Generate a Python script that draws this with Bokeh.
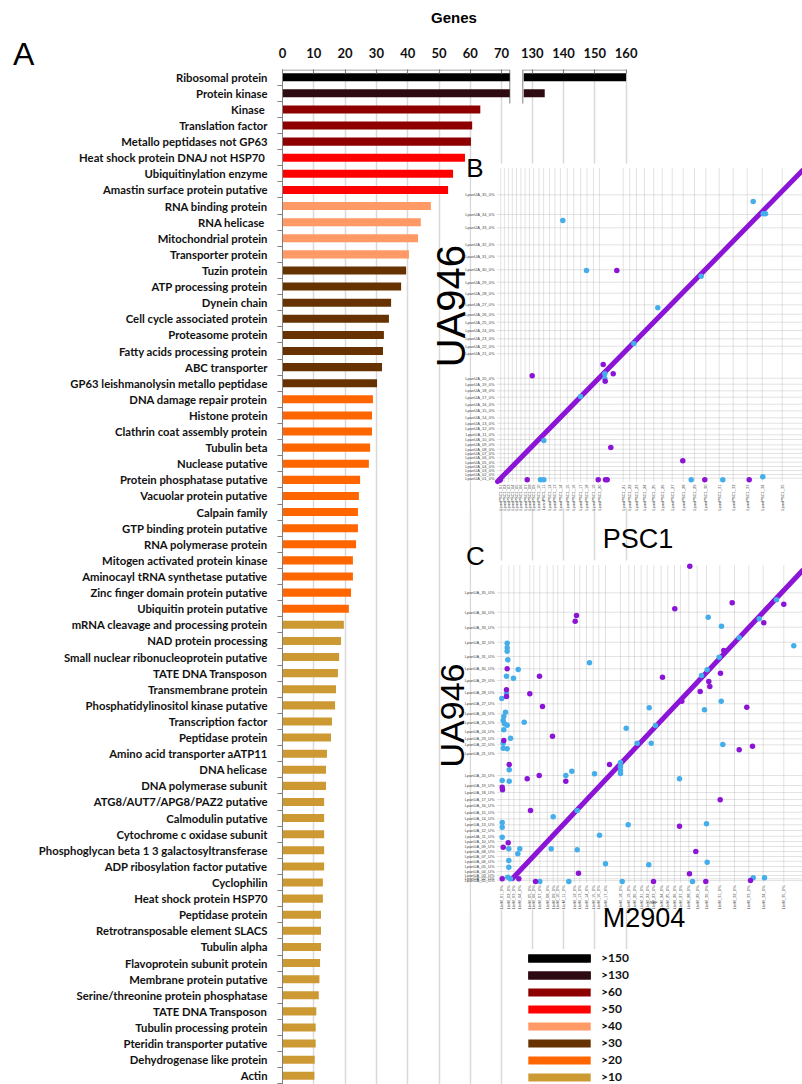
import math
from bokeh.plotting import figure
from bokeh.layouts import row
from bokeh.models import (Range1d, FixedTicker, ColumnDataSource, Label, Legend, LegendItem,
                          LinearAxis, Div)
from bokeh.embed import file_html
from bokeh.resources import INLINE

# ---------------- Panel A data ----------------
categories = [
    "Ribosomal protein", "Protein kinase", "Kinase ", "Translation factor",
    "Metallo peptidases not GP63", "Heat shock protein DNAJ not HSP70 ",
    "Ubiquitinylation enzyme", "Amastin surface protein putative",
    "RNA binding protein", "RNA helicase ", "Mitochondrial protein",
    "Transporter protein", "Tuzin protein", "ATP processing protein",
    "Dynein chain", "Cell cycle associated protein", "Proteasome protein",
    "Fatty acids processing protein", "ABC transporter",
    "GP63 leishmanolysin metallo peptidase", "DNA damage repair protein",
    "Histone protein", "Clathrin coat assembly protein", "Tubulin beta",
    "Nuclease putative", "Protein phosphatase putative",
    "Vacuolar protein putative", "Calpain family",
    "GTP binding protein putative", "RNA polymerase protein",
    "Mitogen activated protein kinase", "Aminocayl tRNA synthetase putative",
    "Zinc finger domain protein putative", "Ubiquitin protein putative",
    "mRNA cleavage and processing protein", "NAD protein processing",
    "Small nuclear ribonucleoprotein putative", "TATE DNA Transposon",
    "Transmembrane protein", "Phosphatidylinositol kinase putative",
    "Transcription factor", "Peptidase protein",
    "Amino acid transporter aATP11", "DNA helicase", "DNA polymerase subunit",
    "ATG8/AUT7/APG8/PAZ2 putative", "Calmodulin putative",
    "Cytochrome c oxidase subunit",
    "Phosphoglycan beta 1 3 galactosyltransferase",
    "ADP ribosylation factor putative", "Cyclophilin",
    "Heat shock protein HSP70", "Peptidase protein",
    "Retrotransposable element SLACS", "Tubulin alpha",
    "Flavoprotein subunit protein", "Membrane protein putative",
    "Serine/threonine protein phosphatase", "TATE DNA Transposon",
    "Tubulin processing protein", "Pteridin transporter putative",
    "Dehydrogenase like protein", "Actin",
]
genes = [
    160, 134, 63.2, 60.6, 60.2, 58.3, 54.5, 52.9,
    47.4, 44.2, 43.3, 40.4,
    39.5, 37.9, 34.7, 34.0, 32.4, 32.1, 31.8, 30.2,
    28.9, 28.6, 28.6, 28.0, 27.6, 24.8, 24.4, 24.1, 24.1, 23.5, 22.5, 22.5, 21.9, 21.2,
    19.6, 18.7, 18.1, 17.7, 17.1, 16.8, 15.8, 15.5, 14.2, 13.9, 13.9, 13.3, 13.3,
    13.3, 13.3, 13.3, 12.9, 12.9, 12.3, 12.3, 12.3, 12.0, 11.8, 11.6, 10.8, 10.6,
    10.6, 10.3, 10.2,
]
class_labels = [">150", ">130", ">60", ">50", ">40", ">30", ">20", ">10"]
class_colors = ["#000000", "#2E0B12", "#8E0000", "#FF0000", "#FF9966", "#663300", "#FF6600", "#CC9933"]
class_counts = [1, 1, 3, 3, 4, 8, 14, 29]

seg1_ticks = [0, 10, 20, 30, 40, 50, 60, 70]
seg2_ticks = [130, 140, 150, 160]
break_low = 72.62      # end of first axis segment
seg2_low = 127.3       # start of second axis segment
seg2_offset = 50.22    # seg2 value - offset = position on main scale

# ---------------- Panel B data (UA946 vs PSC1, Mb) ----------------
chrom = list(range(1, 36))
b_y_ticks = [0.33, 0.70, 1.10, 1.50, 1.93, 2.37, 2.80, 3.23, 3.67, 4.20, 4.67, 5.27,
             5.83, 6.37, 7.07, 7.73, 8.43, 9.07, 9.73, 10.33, 12.77, 13.53, 14.27,
             15.10, 15.93, 16.73, 17.67, 18.83, 19.93, 21.17, 22.53, 23.67, 25.37,
             26.70, 28.67]
b_x_ticks = [0.33, 0.69, 1.09, 1.48, 1.90, 2.34, 2.76, 3.19, 3.62, 4.15, 4.61, 5.20,
             5.75, 6.29, 6.98, 7.63, 8.32, 8.95, 9.60, 10.20, 12.57, 13.23, 13.90,
             14.70, 15.63, 16.47, 17.47, 18.57, 19.70, 20.83, 22.17, 23.57, 24.97,
             26.47, 28.47]
b_y_names = ["LpanUA_%02d_0%%" % c for c in chrom]
b_x_names = ["LpanPSC1_%02d" % c for c in chrom]
b_diag_x = [0.0, 30.5]
b_diag_y = [0.0, 31.1]
b_cyan_x = [25.57, 26.57, 26.8, 6.53, 8.9, 20.37, 16.03, 13.63, 10.73, 10.73, 8.3, 4.63,
            4.3, 4.63, 19.37, 22.53, 26.53]
b_cyan_y = [28.0, 26.77, 26.77, 26.1, 21.1, 20.53, 17.37, 13.8, 10.77, 10.3, 8.5, 4.1,
            0.17, 0.17, 0.17, 0.17, 0.47]
b_purple_x = [11.93, 10.57, 3.47, 11.57, 10.77, 11.33, 18.53, 2.97, 10.07, 10.8, 10.97,
              20.73, 25.17, 0.3, 0.2]
b_purple_y = [21.1, 11.7, 10.57, 10.77, 10.03, 3.4, 2.07, 0.17, 0.17, 0.17, 0.17,
              0.17, 0.17, 0.2, 0.1]

# ---------------- Panel C data (UA946 vs M2904, Mb) ----------------
c_y_ticks = [0.2, 0.37, 0.7, 1.1, 1.6, 2.13, 2.6, 3.1, 3.6, 4.1, 4.63, 5.2, 5.77, 6.37,
             7.03, 7.7, 8.3, 9.0, 9.7, 10.7, 12.93, 13.77, 14.37, 15.13, 15.97, 16.87,
             17.87, 18.97, 20.2, 21.37, 22.6, 24.03, 25.53, 27.03, 28.97]
c_x_ticks = [0.37, 1.13, 1.63, 2.23, 3.23, 3.63, 4.23, 4.97, 5.57, 6.03, 6.63, 7.7, 8.23,
             8.9, 9.57, 10.13, 10.8, 12.3, 13.13, 13.7, 14.37, 14.97, 15.63, 16.37,
             17.03, 17.7, 18.3, 19.13, 19.97, 20.9, 22.23, 23.7, 25.13, 26.57, 28.63]
c_y_names = ["LpanUA_%02d_U%%" % c for c in chrom]
c_x_names = ["LbrM_%02d_0%%" % c for c in chrom]
c_diag_x = [1.5, 30.5]
c_diag_y = [0.4, 31.2]
c_purple_x = [19.23, 17.73, 23.47, 28.63, 7.9, 7.77, 0.97, 4.2, 16.5, 22.3, 21.13, 21.23,
              20.27, 3.23, 0.9, 0.9, 4.5, 18.43, 24.93, 5.5, 0.63, 25.5, 24.17, 26.63,
              22.63, 1.17, 11.2, 4.17, 2.97, 6.83, 0.47, 0.5, 22.27, 3.3, 18.2, 1.07,
              0.57, 19.83, 8.1, 19.2, 2.13, 0.47, 3.8, 15.6, 20.83, 25.3]
c_purple_y = [31.63, 27.37, 27.97, 27.83, 26.7, 26.13, 21.37, 20.63, 20.53, 20.93, 20.1,
              19.6, 19.1, 18.87, 19.27, 18.6, 17.6, 18.13, 17.53, 14.63, 14.2, 13.63,
              13.27, 25.97, 23.2, 11.8, 11.8, 10.7, 10.37, 10.13, 9.53, 9.27, 8.27, 7.2,
              5.63, 3.97, 3.53, 3.1, 0.93, 0.87, 0.37, 0.37, 0.1, 0.1, 0.1, 0.2]
c_cyan_x = [21.07, 22.4, 29.63, 0.97, 0.97, 0.97, 1.03, 2.07, 0.9, 1.6, 9.2, 0.9, 0.43,
            22.37, 15.17, 20.7, 0.8, 0.63, 0.57, 0.7, 0.97, 0.63, 2.67, 12.87, 15.8, 1.3,
            0.57, 0.57, 0.97, 15.37, 22.53, 27.9, 26.17, 24.17, 22.17, 20.97, 20.4,
            13.97, 1.17, 6.83, 7.43, 9.7, 18.2, 0.47, 1.17, 12.3, 12.3, 12.3, 12.3,
            5.57, 7.97, 0.47, 0.47, 13.07, 20.9, 0.47, 10.2, 1.13, 2.23, 5.37, 7.97,
            2.03, 10.8, 15.13, 20.97, 1.13, 1.13, 1.03, 1.3, 4.23, 7.13, 12.47, 19.5,
            25.57, 26.7]
c_cyan_y = [26.53, 25.63, 23.67, 23.93, 23.47, 23.13, 22.27, 21.3, 20.63, 20.43, 21.97,
            18.87, 18.4, 18.13, 17.47, 17.27, 17.03, 16.6, 16.2, 15.87, 15.73, 15.27,
            16.03, 15.43, 15.7, 14.43, 13.93, 13.43, 13.37, 13.93, 13.8, 28.27, 26.37,
            24.47, 22.53, 21.27, 20.7, 13.93, 11.27, 10.7, 11.13, 10.87, 10.37, 10.2,
            10.13, 12.0, 11.6, 11.2, 10.9, 6.57, 7.2, 6.0, 5.53, 5.77, 5.87, 4.53, 4.73,
            3.37, 3.37, 3.37, 3.27, 2.87, 1.87, 1.77, 2.03, 2.2, 1.53, 0.53, 0.37, 0.1,
            0.1, 0.1, 0.1, 0.47, 0.47]

PURPLE = "#8B14D6"
CYAN = "#45AEEA"
GRID_A = "#D9D9D9"
AXIS = "#808080"

LEFT_W = 35
FIG_W = 802 - LEFT_W
FRAME_W = FIG_W - 247
X_END = FRAME_W / 3.13

# ---------------- figure ----------------
p = figure(width=FIG_W, height=1084, output_backend="svg", toolbar_location=None,
           x_range=Range1d(0, X_END), y_range=Range1d(62.54, -0.478),
           x_axis_location="above", min_border_left=247, min_border_top=69,
           min_border_right=0, min_border_bottom=0, margin=0)
p.outline_line_color = None
p.background_fill_color = "white"
p.border_fill_color = "white"
p.extra_x_ranges = {"seg2": Range1d(0 + seg2_offset, X_END + seg2_offset)}

top_pos = seg1_ticks + [t - seg2_offset for t in seg2_ticks]
top_txt = [str(t) for t in seg1_ticks + seg2_ticks]

xa = p.xaxis[0]
xa.ticker = FixedTicker(ticks=top_pos, minor_ticks=[])
xa.major_label_overrides = {k: v for k, v in zip(top_pos, top_txt)}
xa.axis_line_color = None
xa.major_tick_in = 4
xa.major_tick_out = 0
xa.major_tick_line_color = AXIS
xa.major_label_standoff = 12
xa.major_label_text_font = "Lato"
xa.major_label_text_font_style = "bold"
xa.major_label_text_font_size = "13px"
xa.major_label_text_color = "#111111"

# "Genes" heading as an outer top axis with a single labelled tick
genes_pos = 54.79
ga = LinearAxis(ticker=FixedTicker(ticks=[genes_pos], minor_ticks=[]),
                major_label_overrides={genes_pos: "Genes"},
                axis_line_color=None, major_tick_line_color=None, minor_tick_line_color=None,
                major_tick_in=0, major_tick_out=0, major_label_standoff=19,
                major_label_text_font="Liberation Sans", major_label_text_font_style="bold",
                major_label_text_font_size="15px", major_label_text_color="#000000")
p.add_layout(ga, "above")

rows = list(range(len(categories)))
ya = p.yaxis[0]
ya.ticker = FixedTicker(ticks=rows, minor_ticks=[i - 0.5 for i in range(len(categories) + 1)])
ya.major_label_overrides = {i: categories[i] for i in rows}
ya.major_tick_line_color = None
ya.major_tick_out = 0
ya.major_tick_in = 0
ya.minor_tick_out = 5
ya.minor_tick_in = 0
ya.minor_tick_line_color = AXIS
ya.axis_line_color = AXIS
ya.major_label_standoff = 10
ya.major_label_text_font = "Lato"
ya.major_label_text_font_style = "bold"
ya.major_label_text_font_size = "11.3px"
ya.major_label_text_color = "#111111"

p.ygrid.visible = False
p.xgrid.ticker = FixedTicker(ticks=top_pos[1:], minor_ticks=[])
p.xgrid.grid_line_color = GRID_A
p.xgrid.grid_line_width = 1.5

# top axis line (two segments) and break marks
p.segment(x0=[0, 76.77], y0=-0.447, x1=[break_low, 109.78], y1=-0.447, line_color=AXIS, line_width=1)
p.segment(x0=[break_low, 76.77], y0=-0.478, x1=[break_low, 76.77], y1=1.633, line_color=AXIS, line_width=1)

# bars
cls = []
for c, n in enumerate(class_counts):
    cls += [c] * n
legend_renderers = []
for c in range(len(class_labels)):
    rr = [i for i in rows if cls[i] == c]
    src = ColumnDataSource(dict(y=rr, right=[min(genes[i], break_low) for i in rr]))
    r = p.hbar(y="y", left=0, right="right", height=0.5, source=src,
               fill_color=class_colors[c], line_color=None)
    group = [r]
    big = [i for i in rr if genes[i] > seg2_low]
    if big:
        src2 = ColumnDataSource(dict(y=big, right=[genes[i] for i in big]))
        r2 = p.hbar(y="y", left=seg2_low, right="right", height=0.5, source=src2,
                    fill_color=class_colors[c], line_color=None, x_range_name="seg2")
        group.append(r2)
    legend_renderers.append(group)

# ---------------- insets B and C ----------------
def inset(sub, xt, yt, xnames, ynames, xtop, ytop, cx, cy, px, py, dx, dy):
    sub.quad(left=-2.6, right=32, bottom=-2.7, top=ytop + 0.5, fill_color="white", line_color=None)
    sub.segment(x0=xt, y0=0, x1=xt, y1=ytop, line_color="#A0A0A0", line_width=0.6, line_dash="1 1")
    sub.segment(x0=0, y0=yt, x1=xtop, y1=yt, line_color="#A0A0A0", line_width=0.6, line_dash="1 1")
    sub.text(x=-0.3, y=yt, text=ynames, text_align="right", text_baseline="middle",
             text_font_size="4px", text_color="#444444")
    sub.text(x=xt, y=-0.3, text=xnames, angle=math.pi / 2, text_align="right",
             text_baseline="middle", text_font_size="4px", text_color="#444444")
    sub.line(x=dx, y=dy, line_color=PURPLE, line_width=5, line_cap="round")
    sub.scatter(x=cx, y=cy, size=5.5, fill_color=CYAN, line_color=None)
    sub.scatter(x=px, y=py, size=5.5, fill_color=PURPLE, line_color=None)

sb = p.subplot(x_source=Range1d(0, 30.5), y_source=Range1d(0, 31.3),
               x_target=Range1d(68.69, 166.13), y_target=Range1d(25.104, 5.669))
inset(sb, b_x_ticks, b_y_ticks, b_x_names, b_y_names, 31.0, 31.3,
      b_cyan_x, b_cyan_y, b_purple_x, b_purple_y, b_diag_x, b_diag_y)

sc = p.subplot(x_source=Range1d(0, 30.5), y_source=Range1d(0, 31.7),
               x_target=Range1d(68.69, 166.13), y_target=Range1d(50.0, 30.318))
inset(sc, c_x_ticks, c_y_ticks, c_x_names, c_y_names, 31.0, 31.7,
      c_cyan_x, c_cyan_y, c_purple_x, c_purple_y, c_diag_x, c_diag_y)
sc.text(x=[15.6], y=[-1.97], text=["REF"], text_align="center", text_baseline="middle",
        text_font_size="4px", text_color="#444444")

# ---------------- text labels inside the frame ----------------
def lab(x, y, t, size, font="Liberation Sans", style="normal", angle=0.0):
    p.add_layout(Label(x=x, y=y, text=t, text_font=font, text_font_style=style,
                       text_font_size=size, text_align="center", text_baseline="middle",
                       angle=angle, text_color="#000000"))

lab(61.50, 5.64, "B", "26px")
lab(61.66, 29.73, "C", "26px")
lab(53.99, 14.21, "UA946", "40px", angle=math.pi / 2)
lab(54.31, 39.63, "UA946", "34px", angle=math.pi / 2)
lab(113.58, 28.67, "PSC1", "27px")
lab(115.50, 52.20, "M2904", "27px")

# ---------------- legend ----------------
legend = Legend(items=[LegendItem(label=class_labels[c], renderers=legend_renderers[c])
                       for c in range(len(class_labels))],
                location=(238, -1), orientation="vertical",
                glyph_width=78, glyph_height=10, label_standoff=3, label_height=17,
                spacing=0, padding=4, margin=0,
                background_fill_color="white", background_fill_alpha=1.0,
                border_line_color=None,
                label_text_font="Lato", label_text_font_style="bold",
                label_text_font_size="12px", label_text_color="#111111")
p.add_layout(legend)

# panel letter "A" at the top-left corner
panel_a = Div(text='<div style="font-family:\'Liberation Sans\'; font-size:32px; line-height:32px; '
                   'padding-top:38px; padding-left:13px; color:#000;">A</div>',
              width=LEFT_W, height=100, margin=0)

layout = row(panel_a, p)
open("out.html", "w").write(file_html(layout, INLINE))
